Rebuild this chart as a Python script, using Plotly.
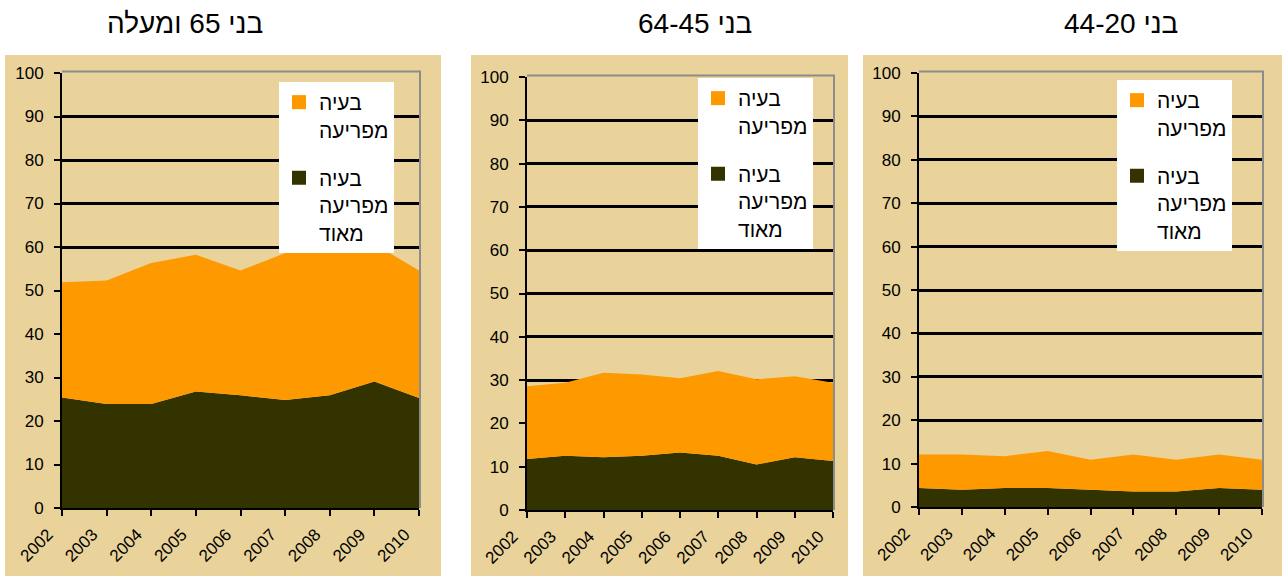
import plotly.graph_objects as go

W, H = 1282, 576

years = [2002, 2003, 2004, 2005, 2006, 2007, 2008, 2009, 2010]
year_labels = [str(y) for y in years]

# share reporting the problem as "very disturbing" (bottom layer)
very_65 = [25.4, 23.9, 23.9, 26.8, 25.9, 24.8, 25.9, 29.1, 25.3]
very_45 = [11.8, 12.5, 12.2, 12.5, 13.3, 12.5, 10.5, 12.2, 11.3]
very_20 = [4.4, 4.0, 4.4, 4.4, 4.0, 3.6, 3.6, 4.4, 4.0]

# share reporting the problem as "disturbing" (stacked on top)
dist_65 = [26.5, 28.4, 32.4, 31.4, 28.7, 33.8, 33.1, 31.6, 29.3]
dist_45 = [16.8, 16.9, 19.5, 18.8, 17.1, 19.6, 19.7, 18.7, 18.1]
dist_20 = [7.7, 8.1, 7.3, 8.5, 6.9, 8.5, 7.3, 7.7, 6.9]

titles = ["בני 65 ומעלה", "בני 64-45", "בני 44-20"]
name_dist = "בעיה<br>מפריעה"
name_very = "בעיה<br>מפריעה<br>מאוד"

ORANGE = "#FF9900"
DARK = "#333300"
PAPER = "#E9D39A"
FONT = "Liberation Sans, Arial, sans-serif"

# pixel layout of each panel: background, plot area, title centre, legend box
panels = [
    dict(bg=(5, 441), plot=(62, 419, 73, 508), title_x=185, legend=(279, 82),
         very=very_65, dist=dist_65),
    dict(bg=(471, 848), plot=(527, 833, 77, 510), title_x=695, legend=(698, 78),
         very=very_45, dist=dist_45),
    dict(bg=(863, 1282), plot=(919, 1262, 73, 507), title_x=1121, legend=(1117, 80),
         very=very_20, dist=dist_20),
]


def px(x):
    return x / W


def py(y):
    return 1 - y / H


fig = go.Figure()
shapes = []
annotations = []

for i, p in enumerate(panels):
    n = "" if i == 0 else str(i + 1)
    xa, ya = "x" + n, "y" + n
    leg = "legend" + n
    x0, x1, y0, y1 = p["plot"]

    shapes.append(dict(type="rect", xref="paper", yref="paper",
                       x0=px(p["bg"][0]), x1=px(p["bg"][1]), y0=0, y1=py(55),
                       fillcolor=PAPER, line=dict(width=0), layer="below"))

    fig.add_trace(go.Scatter(
        x=years, y=p["very"], xaxis=xa, yaxis=ya, stackgroup="s" + n,
        mode="none", fillcolor=DARK, showlegend=False, hoverinfo="skip"))
    fig.add_trace(go.Scatter(
        x=years, y=p["dist"], xaxis=xa, yaxis=ya, stackgroup="s" + n,
        mode="none", fillcolor=ORANGE, showlegend=False, hoverinfo="skip"))

    # legend entries with square swatches
    fig.add_trace(go.Scatter(
        x=[None], y=[None], xaxis=xa, yaxis=ya, mode="markers", name=name_dist,
        marker=dict(symbol="square", size=14, color=ORANGE),
        legend=leg, legendgroup="d" + n, legendrank=1))
    fig.add_trace(go.Scatter(
        x=[None], y=[None], xaxis=xa, yaxis=ya, mode="markers", name=name_very,
        marker=dict(symbol="square", size=14, color=DARK),
        legend=leg, legendgroup="v" + n, legendrank=2))

    fig.update_layout(**{
        "xaxis" + n: dict(
            domain=[px(x0), px(x1)], anchor=ya, range=[2002, 2010],
            tickvals=years, ticktext=year_labels, tickangle=-45,
            ticks="outside", ticklen=6, tickwidth=2, tickcolor="black",
            showline=True, linecolor="black", linewidth=2, showgrid=False,
            zeroline=False, automargin=False,
            ticklabelstandoff=2, ticklabelshift=-14,
            tickfont=dict(size=17, color="black", family=FONT),
            fixedrange=True),
        "yaxis" + n: dict(
            domain=[py(y1), py(y0)], anchor=xa, range=[0, 100], dtick=10,
            ticks="outside", ticklen=6, tickwidth=2, tickcolor="black",
            showline=True, linecolor="black", linewidth=2,
            showgrid=True, gridcolor="black", gridwidth=3, zeroline=False,
            automargin=False, ticklabelstandoff=7,
            tickfont=dict(size=17, color="black", family=FONT),
            fixedrange=True),
        leg: dict(
            x=px(p["legend"][0]), y=py(p["legend"][1]),
            xanchor="left", yanchor="top", bgcolor="white",
            font=dict(size=21, color="black", family=FONT),
            traceorder="grouped", tracegroupgap=18, valign="top",
            itemwidth=30),
    })

    # grey frame along the top and right of the plot area
    shapes.append(dict(type="path", xref="paper", yref="paper",
                       path=f"M {px(x0)} {py(y0 - 1.5)} L {px(x1 + 1)} {py(y0 - 1.5)} "
                            f"L {px(x1 + 1)} {py(y1)}",
                       line=dict(color="#8C8C8C", width=2), layer="above"))

    annotations.append(dict(text=titles[i], xref="paper", yref="paper",
                            x=px(p["title_x"]), y=py(23), xanchor="center",
                            yanchor="middle", showarrow=False,
                            font=dict(size=28, color="black", family=FONT)))

fig.update_layout(
    template="none",
    width=W, height=H, margin=dict(l=0, r=0, t=0, b=0, autoexpand=False),
    paper_bgcolor="white", plot_bgcolor="rgba(0,0,0,0)",
    shapes=shapes, annotations=annotations,
    font=dict(family=FONT, color="black"),
)

fig.write_html("out.html")
